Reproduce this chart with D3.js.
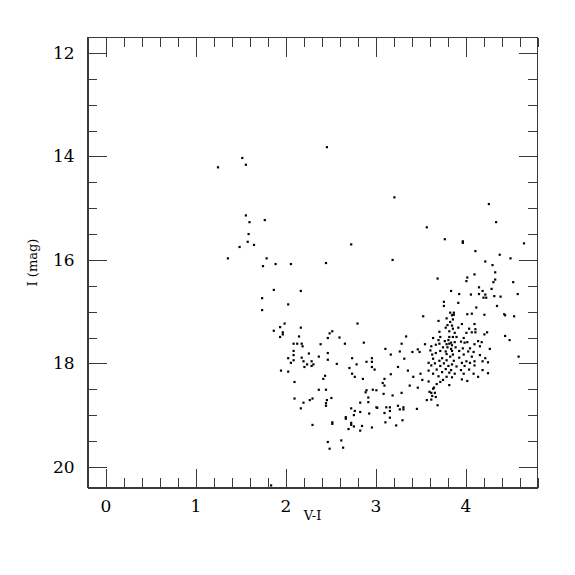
<!DOCTYPE html>
<meta charset="utf-8">
<style>
    body {
        margin: 0;
        background: white;
    }

    .axis path,
    .axis line {
        stroke: #3a3a3a;
        stroke-width: 1px;
        shape-rendering: crispEdges;
    }

    rect.star {
        fill: black;
    }
</style>

<body>
    <svg id="cmd" width="575" height="575"></svg>
    <script src="https://d3js.org/d3.v7.min.js"></script>
    <script>

        // colour (V-I) of each star
        const viColor = [
            2.46, 1.52, 1.56, 1.25, 1.56, 1.77, 1.60, 1.59, 1.58, 1.65, 1.49, 1.36, 1.79, 1.75, 1.89, 2.06, 2.45, 1.87,
            2.17, 1.74, 2.03, 1.74, 1.99, 1.94, 2.17, 1.87, 1.97, 1.97, 1.94, 2.15, 2.49, 2.47, 2.09, 2.13, 2.18, 2.19,
            2.39, 2.09, 2.26, 2.47, 2.09, 2.37, 2.18, 2.03, 2.47, 2.09, 2.20, 2.29, 2.06, 2.24, 2.31, 2.29, 2.21, 1.95,
            2.03, 2.44, 2.42, 2.10, 2.37, 2.45, 2.10, 2.30, 2.27, 2.46, 2.20, 2.45, 2.45, 2.17, 2.30, 2.47, 2.49, 1.84,
            3.53, 2.80, 2.52, 3.34, 2.60, 2.66, 2.87, 3.29, 3.55, 3.11, 3.47, 3.27, 3.41, 3.49, 3.17, 2.74, 2.96, 3.32,
            2.90, 2.96, 2.79, 2.57, 3.59, 3.25, 2.96, 2.99, 2.71, 3.36, 2.74, 3.17, 3.50, 3.59, 3.42, 2.77, 2.86, 3.52,
            3.08, 3.59, 3.10, 3.38, 3.47, 3.10, 2.97, 3.01, 2.90, 2.89, 3.09, 3.29, 3.60, 3.19, 2.92, 3.57, 2.51, 2.92,
            2.83, 3.01, 3.12, 3.16, 3.25, 3.31, 2.73, 3.02, 3.27, 3.31, 3.46, 2.77, 2.83, 3.16, 3.10, 2.76, 2.93, 2.67,
            2.67, 3.16, 2.52, 2.52, 2.73, 2.73, 3.30, 3.11, 2.76, 2.85, 2.96, 3.23, 2.70, 2.83, 2.62, 2.64,
            3.21, 3.57, 2.73, 3.19,
            4.26, 4.34, 3.77, 3.97, 3.97, 4.65, 4.11, 4.38, 4.50, 4.22, 4.30, 4.33, 4.10, 3.69, 4.02, 4.01, 4.33, 4.31,
            4.53, 4.15, 4.19, 4.29, 3.84, 3.93, 4.06, 4.15, 4.22, 4.58, 4.32, 4.39, 4.20, 4.23,
            3.76, 3.92, 3.76, 4.12, 4.35, 3.83, 3.87, 3.85, 3.87, 4.02, 4.07, 4.21, 4.43, 4.44, 4.54, 3.79, 3.86, 3.83,
            3.70, 3.80, 3.85, 3.96, 3.78, 3.86, 4.04, 4.10, 4.11, 3.92, 4.07, 4.11, 3.71, 3.82, 3.88, 4.01, 4.21, 4.24,
            4.44, 3.72, 3.82, 3.86, 3.90, 3.64, 3.98, 3.95, 3.99, 4.02, 4.49, 3.70, 3.77, 3.81, 3.84, 3.88, 4.14, 4.18,
            3.71, 3.79, 3.82, 3.85, 4.10, 3.67, 3.62, 3.89, 3.75, 3.80, 3.84, 3.97, 4.05, 4.16, 4.27, 3.72, 3.78, 3.85,
            3.93, 4.03, 4.09, 3.61, 3.67, 3.63, 3.79, 3.86, 3.98, 4.16, 4.07, 3.83, 3.74, 3.93, 4.22, 3.64, 3.71, 3.79,
            3.87, 4.01, 4.10, 4.19, 4.25, 3.66, 3.76, 3.85, 3.96, 4.05, 3.62, 3.72, 3.81, 3.90, 3.99, 4.10, 4.59, 3.68,
            3.78, 3.84, 3.95, 4.04, 4.19, 3.74, 3.82, 3.88, 3.98, 4.09, 4.25, 3.64, 3.70, 3.79, 3.85, 4.14, 3.75, 3.96,
            4.02, 3.72, 3.68, 3.82, 3.65, 3.64, 3.62, 3.66, 3.63, 3.67, 3.62, 3.69
        ];

        // I magnitude of each star, same order
        const iMag = [
            13.82, 14.03, 14.16, 14.21, 15.14, 15.23, 15.27, 15.50, 15.65, 15.71, 15.75, 15.97, 15.97, 16.12, 16.08, 16.08, 16.06, 16.58,
            16.60, 16.74, 16.86, 16.97, 17.23, 17.30, 17.31, 17.37, 17.40, 17.44, 17.49, 17.48, 17.42, 17.51, 17.62, 17.62, 17.62, 17.67,
            17.63, 17.76, 17.81, 17.80, 17.84, 17.87, 17.89, 17.90, 17.93, 17.94, 17.96, 17.96, 17.99, 18.02, 18.02, 18.05, 18.07, 18.14,
            18.16, 18.24, 18.30, 18.36, 18.51, 18.51, 18.68, 18.68, 18.71, 18.71, 18.76, 18.77, 18.82, 18.87, 19.19, 19.52, 19.65, 20.36,
            17.09, 17.23, 17.38, 17.48, 17.50, 17.62, 17.60, 17.62, 17.63, 17.72, 17.73, 17.77, 17.78, 17.78, 17.83, 17.90, 17.90, 17.91,
            17.97, 17.97, 18.02, 18.01, 17.99, 18.07, 18.07, 18.12, 18.09, 18.14, 18.20, 18.21, 18.20, 18.14, 18.26, 18.26, 18.30, 18.32,
            18.38, 18.35, 18.43, 18.43, 18.47, 18.30, 18.51, 18.52, 18.52, 18.56, 18.59, 18.57, 18.55, 18.62, 18.66, 18.71, 18.67, 18.75,
            18.76, 18.85, 18.85, 18.85, 18.82, 18.85, 18.87, 18.86, 18.89, 18.89, 18.88, 18.92, 18.94, 18.92, 18.96, 19.00, 18.97, 19.04,
            19.07, 19.05, 19.14, 19.17, 19.15, 19.19, 19.10, 19.14, 19.22, 19.21, 19.24, 19.20, 19.27, 19.30, 19.49, 19.63,
            14.79, 15.37, 15.70, 16.00,
            14.92, 15.27, 15.60, 15.64, 15.67, 15.68, 15.83, 15.90, 15.97, 16.03, 16.10, 16.24, 16.28, 16.36, 16.34, 16.41, 16.38, 16.43,
            16.43, 16.53, 16.60, 16.56, 16.60, 16.66, 16.67, 16.66, 16.67, 16.66, 16.70, 16.71, 16.73, 16.73,
            16.81, 16.83, 16.89, 16.92, 16.89, 17.02, 17.02, 17.07, 17.06, 17.05, 17.04, 17.06, 17.05, 17.07, 17.09, 17.13, 17.15, 17.20,
            17.18, 17.26, 17.27, 17.24, 17.31, 17.33, 17.33, 17.24, 17.34, 17.31, 17.40, 17.40, 17.39, 17.38, 17.41, 17.41, 17.44, 17.40,
            17.47, 17.49, 17.49, 17.49, 17.49, 17.51, 17.51, 17.58, 17.60, 17.59, 17.55, 17.55, 17.57, 17.55, 17.60, 17.59, 17.57, 17.59,
            17.62, 17.63, 17.62, 17.65, 17.63, 17.64, 17.67, 17.69, 17.69, 17.69, 17.72, 17.71, 17.71, 17.67, 17.72, 17.76, 17.77, 17.76,
            17.76, 17.77, 17.78, 17.75, 17.80, 17.83, 17.82, 17.83, 17.83, 17.84, 17.87, 17.87, 17.90, 17.89, 17.90, 17.91, 17.95, 17.94,
            17.95, 17.96, 17.96, 17.96, 17.98, 18.00, 18.00, 18.02, 17.99, 17.99, 18.04, 18.05, 18.05, 18.06, 18.05, 18.04, 17.87, 18.12,
            18.11, 18.13, 18.13, 18.12, 18.13, 18.17, 18.18, 18.20, 18.20, 18.20, 18.19, 18.20, 18.25, 18.26, 18.27, 18.26, 18.32, 18.31,
            18.34, 18.36, 18.40, 18.42, 18.47, 18.49, 18.57, 18.57, 18.63, 18.65, 18.70, 18.81
        ];

        const xMajor = [0, 1, 2, 3, 4];
        const yMajor = [12, 14, 16, 18, 20];

        const serif = "'DejaVu Serif', 'Liberation Serif', serif";
        const margin = { top: 37.5, left: 87.5 };
        const width = 450, height = 450;

        const svg = d3.select("#cmd");
        const g = svg.append("g")
            .attr("transform", `translate(${margin.left},${margin.top})`);

        const x = d3.scaleLinear().domain([-0.2, 4.8]).range([0, width]);
        // magnitudes run downward
        const y = d3.scaleLinear().domain([11.7, 20.4]).range([0, height]);

        const xMinor = d3.range(-0.2, 4.81, 0.2).map(v => +v.toFixed(1)).filter(v => !xMajor.includes(v));
        const yMinor = d3.range(12, 20.41, 0.5).filter(v => !yMajor.includes(v));

        // ticks point inward on all four sides
        function addAxis(axisFn, scale, values, size, labels, transform) {
            const a = axisFn(scale).tickValues(values).tickSizeInner(-size).tickSizeOuter(0)
                .tickPadding(12);
            a.tickFormat(labels ? d3.format("d") : "");
            const sel = g.append("g").attr("class", "axis").attr("transform", transform).call(a);
            if (!labels) sel.select(".domain").remove();
            sel.selectAll("text")
                .style("font-family", serif)
                .style("font-size", "17px")
                .style("fill", "black");
            return sel;
        }

        addAxis(d3.axisBottom, x, xMajor, 19, true, `translate(0,${height})`);
        addAxis(d3.axisBottom, x, xMinor, 9.5, false, `translate(0,${height})`);
        addAxis(d3.axisTop, x, xMajor, 19, false, "translate(0,0)");
        addAxis(d3.axisTop, x, xMinor, 9.5, false, "translate(0,0)");
        addAxis(d3.axisLeft, y, yMajor, 19, true, "translate(0,0)")
            .selectAll("text").attr("dx", "-0.05em");
        addAxis(d3.axisLeft, y, yMinor, 9.5, false, "translate(0,0)");
        addAxis(d3.axisRight, y, yMajor, 19, false, `translate(${width},0)`);
        addAxis(d3.axisRight, y, yMinor, 9.5, false, `translate(${width},0)`);

        // frame
        g.append("rect")
            .attr("width", width).attr("height", height)
            .attr("fill", "none").attr("stroke", "#3a3a3a")
            .attr("shape-rendering", "crispEdges");

        const stars = viColor.map((v, i) => ({ vi: v, mag: iMag[i] }));
        g.selectAll("rect.star")
            .data(stars)
            .enter()
            .append("rect")
            .attr("class", "star")
            .attr("x", d => x(d.vi) - 1.1)
            .attr("y", d => y(d.mag) - 1.1)
            .attr("width", 2.2)
            .attr("height", 2.2);

        svg.append("text")
            .attr("x", margin.left + width / 2)
            .attr("y", 520)
            .attr("text-anchor", "middle")
            .style("font-family", serif)
            .style("font-size", "13px")
            .text("V-I");

        svg.append("text")
            .attr("transform", `translate(37,${margin.top + height / 2}) rotate(-90)`)
            .attr("text-anchor", "middle")
            .style("font-family", serif)
            .style("font-size", "13px")
            .text("I (mag)");

    </script>
</body>

</html>
